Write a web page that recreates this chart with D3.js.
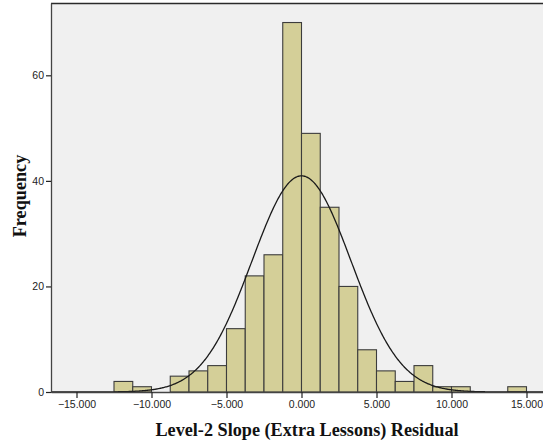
<!DOCTYPE html>
<html>
<head>
<meta charset="utf-8">
<script src="https://cdn.jsdelivr.net/npm/d3@7"></script>
<style>
  html, body { margin: 0; padding: 0; background: #ffffff; }
  svg { display: block; }
</style>
</head>
<body>
<svg id="chart" width="543" height="442"></svg>
<script>
// Histogram bins: lower edge of each bin (width 1.25) and its count
const binStarts = [-12.5, -11.25, -10, -8.75, -7.5, -6.25, -5, -3.75, -2.5, -1.25,
                   0, 1.25, 2.5, 3.75, 5, 6.25, 7.5, 8.75, 10, 11.25, 12.5, 13.75];
const binCounts = [2, 1, 0, 3, 4, 5, 12, 22, 26, 70,
                   49, 35, 20, 8, 4, 2, 5, 1, 1, 0, 0, 1];
const binWidth = 1.25;

// Summary statistics for the fitted normal curve
const sampleMean = 0.0;
const sampleSD = 3.3;
const sampleN = 271;

// Axis ticks
const xTicks = [-15, -10, -5, 0, 5, 10, 15];
const yTicks = [0, 20, 40, 60];

const xTitle = "Level-2 Slope (Extra Lessons) Residual";
const yTitle = "Frequency";

const svg = d3.select("#chart");

const plot = { left: 51, top: 3, bottom: 392, right: 559.5 };

const x = d3.scaleLinear().domain([-16.7, 17.2]).range([plot.left, plot.right]);
const y = d3.scaleLinear().domain([0, 73.7]).range([plot.bottom, plot.top]);

// plot background
svg.append("rect")
  .attr("x", plot.left).attr("y", plot.top)
  .attr("width", plot.right - plot.left).attr("height", plot.bottom - plot.top)
  .attr("fill", "#f0f0f0");

// top frame line
svg.append("line")
  .attr("x1", plot.left).attr("x2", plot.right)
  .attr("y1", plot.top + 0.5).attr("y2", plot.top + 0.5)
  .attr("stroke", "#2a2a2a").attr("stroke-width", 1.3);

// bars
const bars = binStarts.map((s, i) => ({ x0: s, x1: s + binWidth, n: binCounts[i] }))
  .filter(d => d.n > 0);

svg.append("g").selectAll("rect")
  .data(bars)
  .enter().append("rect")
  .attr("x", d => x(d.x0))
  .attr("y", d => y(d.n))
  .attr("width", d => x(d.x1) - x(d.x0))
  .attr("height", d => y(0) - y(d.n))
  .attr("fill", "#d4cf98")
  .attr("stroke", "#3c3c3c")
  .attr("stroke-width", 1.1);

// fitted normal curve
const normalPts = d3.range(-16.7, 17.2, 0.05).map(v => {
  const z = (v - sampleMean) / sampleSD;
  const dens = Math.exp(-0.5 * z * z) / (sampleSD * Math.sqrt(2 * Math.PI));
  return [v, dens * sampleN * binWidth];
});

svg.append("path")
  .datum(normalPts)
  .attr("fill", "none")
  .attr("stroke", "#1a1a1a")
  .attr("stroke-width", 1.3)
  .attr("d", d3.line().x(d => x(d[0])).y(d => y(d[1])));

// x axis
const xAxis = d3.axisBottom(x)
  .tickValues(xTicks)
  .tickSize(6)
  .tickSizeOuter(0)
  .tickPadding(3)
  .tickFormat(d3.format(".3f"));

const gx = svg.append("g")
  .attr("transform", `translate(0,${plot.bottom})`)
  .call(xAxis);
gx.select(".domain").attr("stroke", "#444").attr("stroke-width", 1.5);
gx.selectAll(".tick line").attr("stroke", "#222").attr("stroke-width", 1.2);
gx.selectAll(".tick text")
  .attr("font-family", "Liberation Sans, Arial, sans-serif")
  .attr("font-size", 10.5)
  .attr("fill", "#222");

// y axis
const yAxis = d3.axisLeft(y)
  .tickValues(yTicks)
  .tickSize(5)
  .tickSizeOuter(0)
  .tickPadding(2);

const gy = svg.append("g")
  .attr("transform", `translate(${plot.left},0)`)
  .call(yAxis);
gy.select(".domain").attr("stroke", "#444").attr("stroke-width", 1.3);
gy.selectAll(".tick line").attr("stroke", "#222").attr("stroke-width", 1.2);
gy.selectAll(".tick text")
  .attr("font-family", "Liberation Sans, Arial, sans-serif")
  .attr("font-size", 10.5)
  .attr("fill", "#222");

// axis titles
svg.append("text")
  .attr("x", 307).attr("y", 436)
  .attr("text-anchor", "middle")
  .attr("font-family", "Liberation Serif, Times New Roman, serif")
  .attr("font-weight", "bold")
  .attr("font-size", 18.2)
  .attr("fill", "#111")
  .text(xTitle);

svg.append("text")
  .attr("transform", "translate(26,196) rotate(-90)")
  .attr("text-anchor", "middle")
  .attr("font-family", "Liberation Serif, Times New Roman, serif")
  .attr("font-weight", "bold")
  .attr("font-size", 18.2)
  .attr("fill", "#111")
  .text(yTitle);
</script>
</body>
</html>
